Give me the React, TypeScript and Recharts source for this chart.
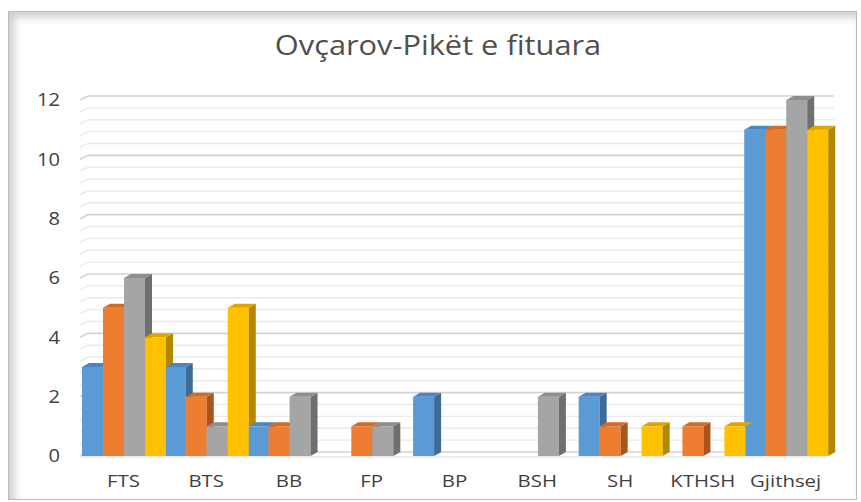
import React from "react";
import { BarChart, Bar, XAxis, YAxis, CartesianGrid } from "recharts";

const categories = ["FTS", "BTS", "BB", "FP", "BP", "BSH", "SH", "KTHSH", "Gjithsej"];
const seriesA = [3, 3, 1, 0, 2, 0, 2, 0, 11];
const seriesB = [5, 2, 1, 1, 0, 0, 1, 1, 11];
const seriesC = [6, 1, 2, 1, 0, 2, 0, 0, 12];
const seriesD = [4, 5, 0, 0, 0, 0, 1, 1, 11];
const yTicks = [0, 2, 4, 6, 8, 10, 12];
const gridValues = [
  0, 0.4, 0.8, 1.2, 1.6, 2, 2.4, 2.8, 3.2, 3.6, 4, 4.4, 4.8, 5.2, 5.6, 6,
  6.4, 6.8, 7.2, 7.6, 8, 8.4, 8.8, 9.2, 9.6, 10, 10.4, 10.8, 11.2, 11.6, 12,
];

const keys = ["a", "b", "c", "d"];
const fronts = ["#5B9BD5", "#ED7D31", "#A5A5A5", "#FFC000"];
const tops = ["#4A86C2", "#D26B26", "#8E8E8E", "#DCA600"];
const sides = ["#3D6B96", "#A9541D", "#6F6F6F", "#B38700"];

const data = categories.map((name, i) => ({
  name,
  a: seriesA[i],
  b: seriesB[i],
  c: seriesC[i],
  d: seriesD[i],
}));

const DX = 7;
const DY = 4;
const FONT = "'Open Sans', sans-serif";

function make3D(s: number) {
  return (props: any) => {
    const { x, y, width, height, payload, index } = props;
    if (!height || height <= 0) return <g />;
    const val = payload[keys[s]];
    let sb = y + height;
    if (s === keys.length - 1) {
      const next = data[index + 1];
      if (next && next[keys[0]] > 0 && val > 0) {
        const ppu = height / val;
        const nt = y + height - next[keys[0]] * ppu;
        sb = Math.max(y, Math.min(y + height, nt));
      }
    }
    const r = x + width;
    return (
      <g>
        <rect x={x} y={y} width={width} height={height} fill={fronts[s]} />
        {sb > y && (
          <polygon
            points={`${r},${y} ${r + DX},${y - DY} ${r + DX},${sb - DY} ${r},${sb}`}
            fill={sides[s]}
          />
        )}
        <polygon
          points={`${x},${y} ${x + DX},${y - DY} ${r + DX},${y - DY} ${r},${y}`}
          fill={tops[s]}
        />
      </g>
    );
  };
}

const GridLine = (props: any) => {
  const { x1, x2, y1, index } = props;
  const major = index % 5 === 0;
  const stroke = major ? "#D4D4D4" : "#EAEAEA";
  return (
    <g>
      <polyline
        points={`${x1 - 2},${y1} ${x1 + 6},${y1 - DY} ${x2 + DX},${y1 - DY}`}
        fill="none"
        stroke={stroke}
        strokeWidth={major ? 1.6 : 1.4}
      />
      {index === 0 && (
        <line x1={x1 - 2} y1={y1 + 1} x2={x2} y2={y1 + 1} stroke="#D9D9D9" strokeWidth={1.2} />
      )}
    </g>
  );
};

const YTick = (props: any) => {
  const { x, y, payload } = props;
  return (
    <g transform={`translate(${x},${y})`}>
      <text
        textAnchor="end"
        dy="0.36em"
        transform="scale(1.12,1)"
        fontFamily={FONT}
        fontSize={18}
        fill="#3F3F3F"
      >
        {payload.value}
      </text>
    </g>
  );
};

const XTick = (props: any) => {
  const { x, y, payload } = props;
  return (
    <g transform={`translate(${x},${y})`}>
      <text
        textAnchor="middle"
        y={31}
        transform="scale(1.2,1)"
        fontFamily={FONT}
        fontSize={17}
        fill="#3F3F3F"
      >
        {payload.value}
      </text>
    </g>
  );
};

export default function App() {
  return (
    <div
      style={{
        position: "absolute",
        left: 0,
        top: 0,
        width: 861,
        height: 502,
        background: "#ffffff",
        overflow: "hidden",
      }}
    >
      <div
        style={{
          position: "absolute",
          left: 8,
          top: 11,
          width: 847,
          height: 487,
          border: "1px solid #BDBDBD",
          boxShadow: "inset 5px 5px 8px rgba(0,0,0,0.2)",
          background: "#ffffff",
        }}
      />
      <svg
        style={{ position: "absolute", left: 0, top: 0 }}
        width={861}
        height={80}
      >
        <g transform="translate(438,55)">
          <text
            textAnchor="middle"
            transform="scale(1.1,1)"
            fontFamily={FONT}
            fontSize={28}
            fill="#4F4F4F"
          >
            Ovçarov-Pikët e fituara
          </text>
        </g>
      </svg>
      <div style={{ position: "absolute", left: 0, top: 0 }}>
        <BarChart
          width={861}
          height={502}
          data={data}
          margin={{ top: 100, right: 34, bottom: 6, left: 22 }}
          barGap={0}
          barCategoryGap={0}
        >
          <CartesianGrid
            vertical={false}
            horizontal={GridLine as any}
            horizontalValues={gridValues}
          />
          <XAxis
            dataKey="name"
            axisLine={false}
            tickLine={false}
            tickSize={0}
            tickMargin={0}
            height={40}
            interval={0}
            tick={XTick}
          />
          <YAxis
            domain={[0, 12]}
            ticks={yTicks}
            axisLine={false}
            tickLine={false}
            tickSize={0}
            tickMargin={22}
            width={60}
            tick={YTick}
            interval={0}
          />
          {keys.map((k, s) => (
            <Bar key={k} dataKey={k} fill={fronts[s]} isAnimationActive={false} shape={make3D(s)} />
          ))}
        </BarChart>
      </div>
    </div>
  );
}
